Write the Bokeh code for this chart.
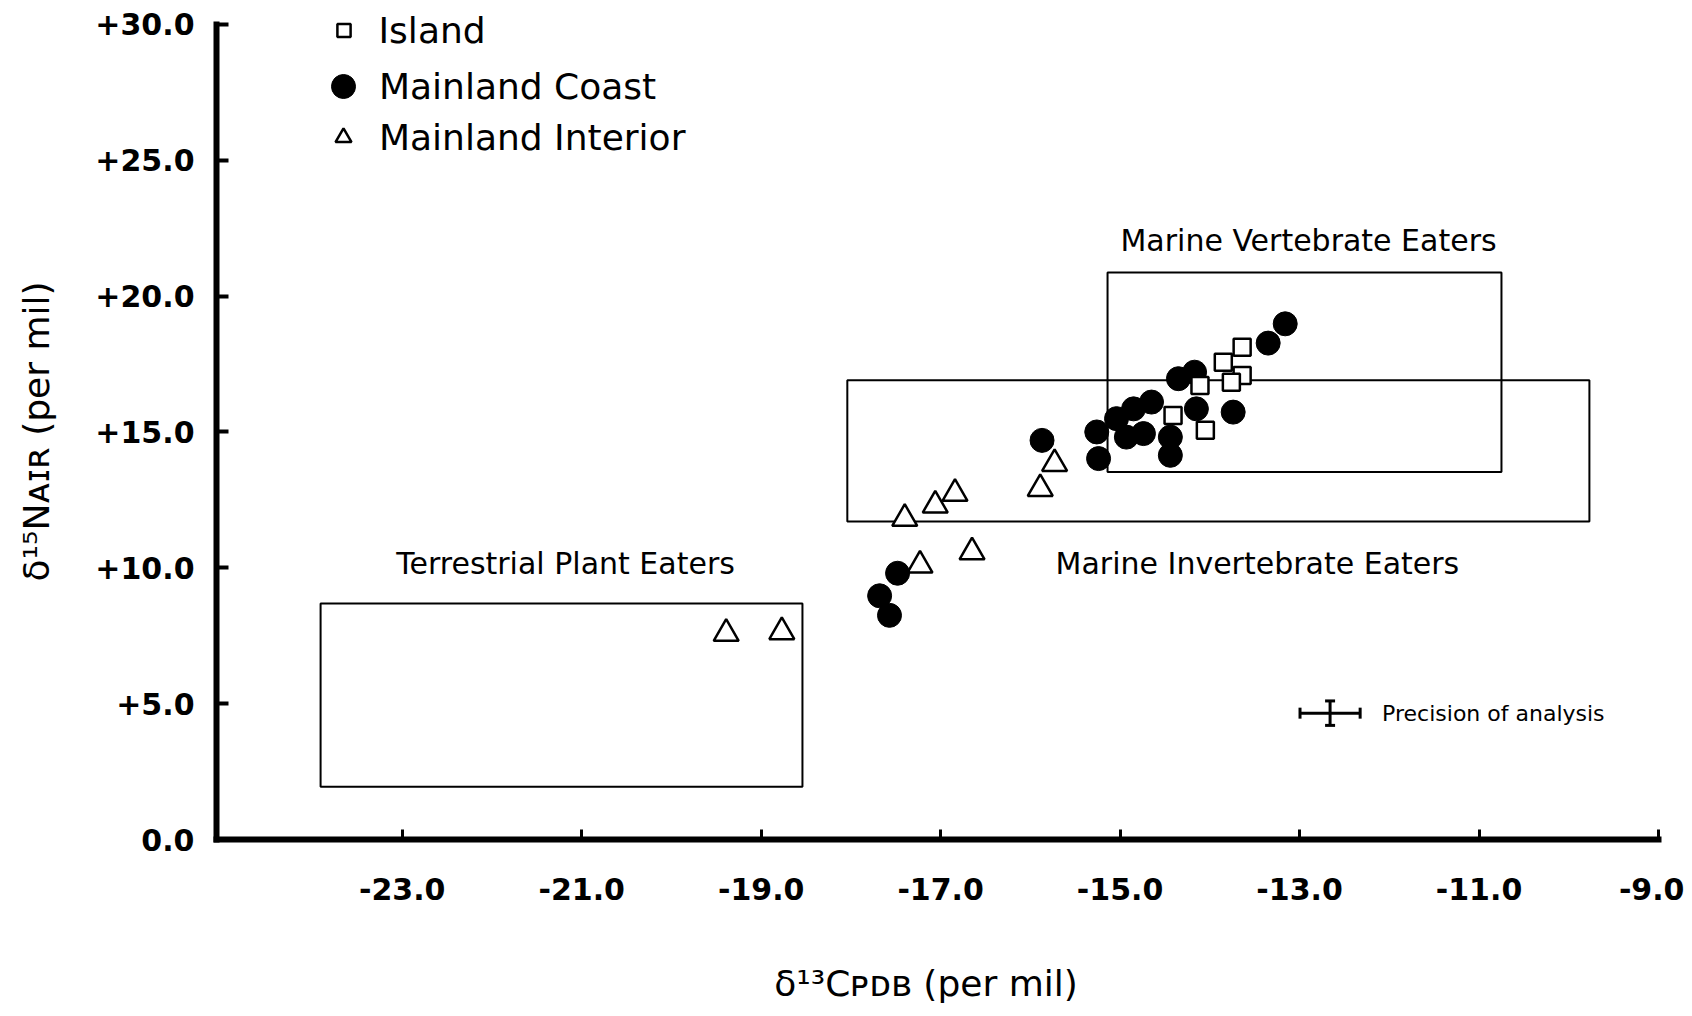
from bokeh.plotting import figure
from bokeh.models import (Range1d, FixedTicker, Legend, LegendItem, Whisker, TeeHead,
                          ColumnDataSource)
from bokeh.core.properties import value
from bokeh.embed import file_html
from bokeh.resources import INLINE

FONT = "DejaVu Sans"

# ---- data (delta13C, delta15N) ----
island_c = [-13.64, -13.85, -13.64, -13.76, -14.11, -14.41, -14.05]
island_n = [18.12, 17.57, 17.08, 16.83, 16.71, 15.61, 15.06]

coast_c = [-13.16, -13.35, -14.35, -14.17, -14.15, -13.74, -14.65, -14.85, -15.04, -15.26,
           -15.24, -14.93, -14.74, -14.44, -14.44, -15.87, -17.68, -17.57, -17.48]
coast_n = [18.98, 18.27, 16.96, 17.20, 15.85, 15.73, 16.10, 15.85, 15.49, 15.00,
           14.02, 14.81, 14.94, 14.81, 14.14, 14.69, 8.97, 8.25, 9.80]

interior_c = [-19.39, -18.77, -17.40, -17.06, -16.84, -17.23, -16.65, -15.89, -15.73]
interior_n = [7.58, 7.64, 11.81, 12.30, 12.73, 10.09, 10.58, 12.91, 13.83]

# ---- diet boxes ----
box_names = ["Terrestrial Plant Eaters", "Marine Invertebrate Eaters", "Marine Vertebrate Eaters"]
box_c_min = [-23.91, -18.04, -15.14]
box_c_max = [-18.54, -9.77, -10.75]
box_n_min = [1.94, 11.70, 13.53]
box_n_max = [8.69, 16.90, 20.87]
box_label_c = [-21.18, -13.47, -12.90]
box_label_n = [10.15, 10.15, 22.05]

# ---- precision of analysis ----
prec_c = [-12.66]
prec_n = [4.65]
prec_err_c = 0.335
prec_err_n = 0.45
prec_text = ["Precision of analysis"]
prec_text_c = [-12.08]

# ---- axes ----
x_ticks = [-23, -21, -19, -17, -15, -13, -11, -9]
x_tick_labels = ["-23.0", "-21.0", "-19.0", "-17.0", "-15.0", "-13.0", "-11.0", "-9.0"]
y_ticks = [0, 5, 10, 15, 20, 25, 30]
y_tick_labels = ["0.0", "+5.0", "+10.0", "+15.0", "+20.0", "+25.0", "+30.0"]
NBSP = "\u00a0"
x_title = "δ¹³Cᴘᴅʙ (per mil)" + NBSP * 2
y_title = "δ¹⁵Nᴀɪʀ (per mil)" + NBSP * 2

# frame spans up to the canvas top so the legend is not clipped; the axis line stops at 30
p = figure(width=1684, height=1008, output_backend="svg", toolbar_location=None,
           x_range=Range1d(-25.07, -9), y_range=Range1d(0, 30.88),
           min_border_left=216, min_border_right=26, min_border_top=0, min_border_bottom=169)
p.outline_line_color = None
p.grid.visible = False
p.background_fill_color = "white"
p.border_fill_color = "white"

for ax in (p.xaxis[0], p.yaxis[0]):
    ax.axis_line_width = 6
    ax.axis_line_color = "black"
    ax.axis_line_cap = "square"
    ax.major_tick_out = 0
    ax.minor_tick_line_color = None
    ax.major_tick_line_color = "black"
    ax.major_label_text_font = FONT
    ax.major_label_text_font_style = "bold"
    ax.major_label_text_font_size = "30px"
    ax.major_label_text_color = "black"
    ax.axis_label_text_font = FONT
    ax.axis_label_text_font_style = "normal"
    ax.axis_label_text_font_size = "36px"
    ax.axis_label_text_color = "black"

p.xaxis.ticker = FixedTicker(ticks=x_ticks)
p.xaxis.major_label_overrides = dict(zip(x_ticks, x_tick_labels))
p.xaxis.major_tick_in = 10
p.xaxis.major_tick_line_width = 3
p.xaxis.major_label_standoff = 38
p.xaxis.axis_label = x_title
p.xaxis.axis_label_standoff = 60

p.yaxis.ticker = FixedTicker(ticks=y_ticks)
p.yaxis.bounds = (y_ticks[0], y_ticks[-1])
p.yaxis.major_label_overrides = dict(zip(y_ticks, y_tick_labels))
p.yaxis.major_tick_in = 12
p.yaxis.major_tick_line_width = 4
p.yaxis.major_label_standoff = 22
p.yaxis.axis_label = y_title
p.yaxis.axis_label_standoff = 35

# boxes
p.quad(left=box_c_min, right=box_c_max, bottom=box_n_min, top=box_n_max,
       fill_color=None, line_color="black", line_width=2)
p.text(x=box_label_c, y=box_label_n, text=box_names, text_font=value(FONT),
       text_font_size="30px", text_align="center", text_baseline="middle", text_color="black")

# precision marker
psrc = ColumnDataSource(dict(x=prec_c, y=prec_n,
                             cl=[c - prec_err_c for c in prec_c], cu=[c + prec_err_c for c in prec_c],
                             nl=[n - prec_err_n for n in prec_n], nu=[n + prec_err_n for n in prec_n]))
p.add_layout(Whisker(source=psrc, base="y", lower="cl", upper="cu", dimension="width",
                     line_width=3, line_color="black",
                     lower_head=TeeHead(size=11, line_width=3, line_color="black"),
                     upper_head=TeeHead(size=11, line_width=3, line_color="black")))
p.add_layout(Whisker(source=psrc, base="x", lower="nl", upper="nu", dimension="height",
                     line_width=3, line_color="black",
                     lower_head=TeeHead(size=10, line_width=3, line_color="black"),
                     upper_head=TeeHead(size=10, line_width=3, line_color="black")))
p.text(x=prec_text_c, y=prec_n, text=prec_text, text_font=value(FONT), text_font_size="22px",
       text_align="left", text_baseline="middle", text_color="black")

# points
r_interior = p.scatter(interior_c, interior_n, marker="triangle", size=25, fill_color="white",
                       line_color="black", line_width=2.5)
r_coast = p.scatter(coast_c, coast_n, marker="circle", size=24, fill_color="black",
                    line_color="black", line_width=1)
r_island = p.scatter(island_c, island_n, marker="square", size=17, fill_color="white",
                     line_color="black", line_width=2.5)

# legends (one per entry so each symbol keeps its own size)
legend_specs = [
    ("Island", r_island, 33, 44, (110.5, 787), 19),
    ("Mainland Coast", r_coast, 60, 60, (97, 723), 6),
    ("Mainland Interior", r_interior, 40, 44, (107, 680), 16),
]
for label, rend, gw, gh, loc, stand in legend_specs:
    leg = Legend(items=[LegendItem(label=label, renderers=[rend])], location=loc,
                 glyph_width=gw, glyph_height=gh, label_height=gh, label_standoff=stand,
                 padding=0, margin=0, spacing=0, border_line_color=None,
                 background_fill_alpha=0, label_text_font=FONT, label_text_font_size="36px",
                 label_text_color="black")
    p.add_layout(leg)

open("out.html", "w").write(file_html(p, INLINE))
